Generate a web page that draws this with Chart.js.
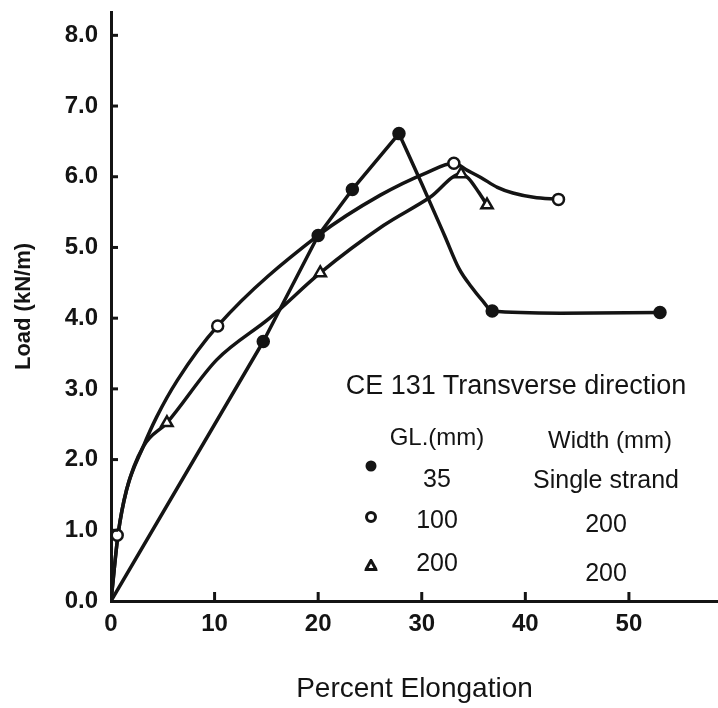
<!DOCTYPE html>
<html>
<head>
<meta charset="utf-8">
<script src="https://cdn.jsdelivr.net/npm/chart.js@4.4.1/dist/chart.umd.min.js"></script>
<style>
  html, body { margin: 0; padding: 0; background: #fff; }
  #wrap { position: relative; width: 718px; height: 708px; overflow: hidden; }
  canvas { position: absolute; left: 0; top: 0; }
  .lg { position: absolute; font-family: "Liberation Sans", Arial, sans-serif; color: #141414;
        white-space: nowrap; transform: translate(-50%, -50%); line-height: 1; }
  .mk { position: absolute; transform: translate(-50%, -50%); }
</style>
</head>
<body>
<div id="wrap">
  <canvas id="c" width="718" height="708"></canvas>
  <div class="lg" style="left:516px; top:385px; font-size:27px;">CE 131 Transverse direction</div>
  <div class="lg" style="left:437px; top:437px; font-size:24px;">GL.(mm)</div>
  <div class="lg" style="left:610px; top:440px; font-size:24px;">Width (mm)</div>
  <div class="mk" style="left:371px; top:466px; width:11px; height:11px; border-radius:50%; background:#141414;"></div>
  <div class="lg" style="left:437px; top:478px; font-size:25px;">35</div>
  <div class="lg" style="left:606px; top:479px; font-size:25px;">Single strand</div>
  <div class="mk" style="left:371px; top:517px; width:6px; height:6px; border-radius:50%; border:3px solid #141414; background:#fff;"></div>
  <div class="lg" style="left:437px; top:519px; font-size:25px;">100</div>
  <div class="lg" style="left:606px; top:523px; font-size:25px;">200</div>
  <svg class="mk" style="left:371px; top:565px;" width="13" height="12" viewBox="0 0 13 12"><polygon points="6.5,1.5 11.5,10.5 1.5,10.5" fill="#fff" stroke="#141414" stroke-width="3"/></svg>
  <div class="lg" style="left:437px; top:562px; font-size:25px;">200</div>
  <div class="lg" style="left:606px; top:572px; font-size:25px;">200</div>
</div>
<script>
// ---------- data ----------
// axis tick labels
const xTickValues = [0, 10, 20, 30, 40, 50];
const yTickValues = [0, 1, 2, 3, 4, 5, 6, 7, 8];

// GL 35 mm, single strand (filled circles)
const gl35MarkElong = [14.7, 20.0, 23.3, 27.8, 36.8, 53.0];
const gl35MarkLoad  = [3.67, 5.17, 5.82, 6.61, 4.10, 4.08];
// traced curve, rising part (straight segments) and falling part
const gl35RiseElong = [0, 14.7, 20.0, 23.3, 27.8];
const gl35RiseLoad  = [0, 3.67, 5.17, 5.82, 6.61];
const gl35FallElong = [27.8, 30.0, 32.2, 33.6, 34.8, 35.9, 36.8, 43.4, 53.0];
const gl35FallLoad  = [6.61, 5.90, 5.17, 4.70, 4.44, 4.24, 4.10, 4.07, 4.08];

// GL 100 mm, width 200 mm (open circles)
const gl100MarkElong = [0.6, 10.3, 33.1, 43.2];
const gl100MarkLoad  = [0.93, 3.89, 6.19, 5.68];
const gl100CurveElong = [0, 0.7, 1.5, 3.1, 4.4, 6.4, 10.3, 20.0, 26.0, 30.5, 33.1, 34.4, 35.7, 37.3, 38.8, 40.8, 43.2];
const gl100CurveLoad  = [0, 0.96, 1.57, 2.18, 2.60, 3.12, 3.89, 5.17, 5.74, 6.06, 6.19, 6.09, 5.99, 5.85, 5.77, 5.71, 5.68];

// GL 200 mm, width 200 mm (open triangles)
const gl200MarkElong = [5.4, 20.2, 33.8, 36.3];
const gl200MarkLoad  = [2.52, 4.64, 6.04, 5.60];
const gl200CurveElong = [0, 0.7, 1.5, 3.1, 5.4, 10.2, 15.4, 20.2, 26.3, 30.8, 33.8, 34.5, 35.5, 36.3];
const gl200CurveLoad  = [0, 0.96, 1.57, 2.18, 2.52, 3.41, 4.01, 4.64, 5.31, 5.71, 6.04, 5.98, 5.78, 5.60];

// ---------- chart ----------
const INK = '#141414';
const FONT = '"Liberation Sans", Arial, sans-serif';
const pts = (xs, ys) => xs.map((x, i) => ({ x: x, y: ys[i] }));

const curve = (xs, ys, mode) => ({
  data: pts(xs, ys), showLine: true, pointRadius: 0, pointHoverRadius: 0,
  borderColor: INK, borderWidth: 3.5, fill: false, order: 2,
  cubicInterpolationMode: mode === 'straight' ? 'default' : 'monotone',
  tension: mode === 'straight' ? 0 : 0.4, borderCapStyle: 'round', borderJoinStyle: 'round'
});
const marks = (label, xs, ys, style, filled) => ({
  label: label, data: pts(xs, ys), showLine: false, order: 1,
  pointStyle: style, pointRadius: style === 'triangle' ? 6.5 : 5.5,
  pointBackgroundColor: filled ? INK : '#ffffff', pointBorderColor: INK, pointBorderWidth: 2.5
});

const inwardTicks = {
  id: 'inwardTicks',
  afterDatasetsDraw(chart) {
    const { ctx, chartArea, scales } = chart;
    ctx.save();
    ctx.strokeStyle = INK;
    ctx.lineWidth = 3;
    scales.y.ticks.forEach(t => {
      if (t.value === 0) return;
      const py = scales.y.getPixelForValue(t.value);
      ctx.beginPath(); ctx.moveTo(chartArea.left, py); ctx.lineTo(chartArea.left + 7, py); ctx.stroke();
    });
    scales.x.ticks.forEach(t => {
      if (t.value === 0) return;
      const px = scales.x.getPixelForValue(t.value);
      ctx.beginPath(); ctx.moveTo(px, chartArea.bottom); ctx.lineTo(px, chartArea.bottom - 9); ctx.stroke();
    });
    ctx.restore();
  }
};

new Chart(document.getElementById('c'), {
  type: 'scatter',
  data: {
    datasets: [
      curve(gl35RiseElong, gl35RiseLoad, 'straight'),
      curve(gl35FallElong, gl35FallLoad, 'smooth'),
      curve(gl100CurveElong, gl100CurveLoad, 'smooth'),
      curve(gl200CurveElong, gl200CurveLoad, 'smooth'),
      marks('GL 35 mm, single strand', gl35MarkElong, gl35MarkLoad, 'circle', true),
      marks('GL 100 mm, width 200 mm', gl100MarkElong, gl100MarkLoad, 'circle', false),
      marks('GL 200 mm, width 200 mm', gl200MarkElong, gl200MarkLoad, 'triangle', false)
    ]
  },
  options: {
    responsive: false,
    animation: false,
    layout: { autoPadding: false, padding: { left: 0, right: 0, top: 12, bottom: 0 } },
    plugins: { legend: { display: false }, tooltip: { enabled: false } },
    scales: {
      x: {
        type: 'linear', min: 0, max: 58.6,
        afterBuildTicks: s => { s.ticks = xTickValues.map(v => ({ value: v })); },
        afterFit: s => { s.height = 107; s.paddingLeft = 0; s.paddingRight = 0; },
        grid: { display: false, drawTicks: false },
        border: { display: true, color: INK, width: 3 },
        ticks: { color: INK, padding: 9, font: { family: FONT, size: 24, weight: 'bold' },
                 callback: v => String(v), maxRotation: 0 },
        title: { display: true, text: 'Percent Elongation', color: INK,
                 font: { family: FONT, size: 28 }, padding: { top: 0, bottom: 2 } }
      },
      y: {
        type: 'linear', min: 0, max: 8.33,
        afterBuildTicks: s => { s.ticks = yTickValues.map(v => ({ value: v })); },
        afterFit: s => { s.width = 111; s.paddingTop = 0; s.paddingBottom = 0; },
        grid: { display: false, drawTicks: false },
        border: { display: true, color: INK, width: 3 },
        ticks: { color: INK, padding: 13, font: { family: FONT, size: 24, weight: 'bold' },
                 callback: v => Number(v).toFixed(1) },
        title: { display: true, text: 'Load (kN/m)', color: INK,
                 font: { family: FONT, size: 22, weight: 'bold' }, padding: { top: 11, bottom: 0 } }
      }
    }
  },
  plugins: [inwardTicks]
});
</script>
</body>
</html>
